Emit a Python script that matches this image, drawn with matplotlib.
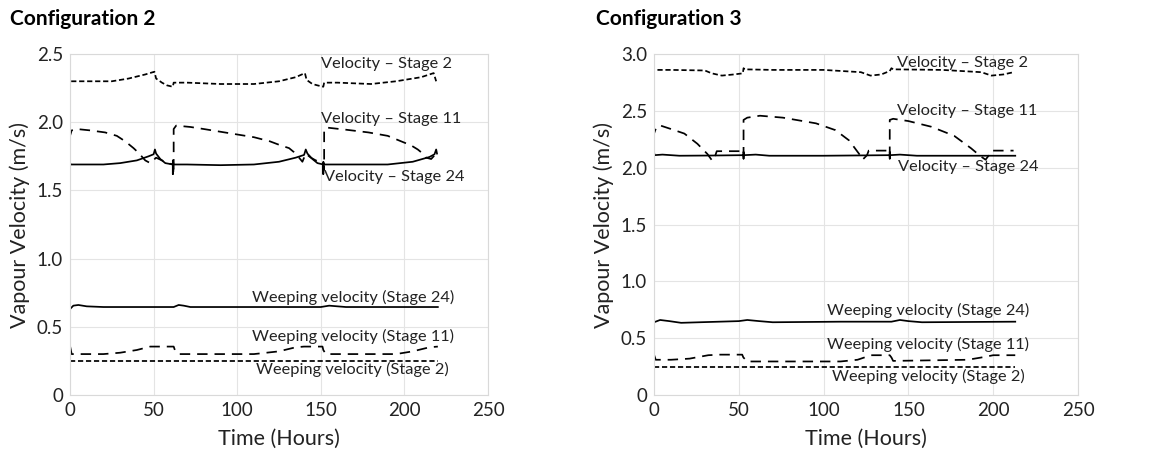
import matplotlib
matplotlib.use("Agg")
import matplotlib.pyplot as plt

plt.rcParams['font.family'] = ['Lato', 'DejaVu Sans']

# ---- Configuration 2 ----
c2_v2_x = [0, 0, 10, 25, 35, 45, 50.5, 51.5, 55, 58, 61.5, 62, 70, 90, 110, 125, 135, 140.5, 141.5, 145, 148, 151.5, 152, 160, 180, 195, 210, 217.5, 219]
c2_v2_y = [2.25, 2.30, 2.30, 2.30, 2.32, 2.35, 2.37, 2.32, 2.29, 2.27, 2.26, 2.29, 2.29, 2.28, 2.28, 2.30, 2.33, 2.36, 2.31, 2.28, 2.27, 2.26, 2.29, 2.29, 2.28, 2.30, 2.33, 2.36, 2.30]

c2_v11_x = [0, 0, 1, 4, 12, 21, 28, 33, 38, 41, 45, 48, 51.5, 55, 58.5, 61.5, 62, 62, 63.5, 72, 80, 90, 100, 110, 119.5, 126, 131, 134, 137, 139, 141, 144, 147, 151.5, 152, 152, 154, 165, 178.5, 190, 198, 204, 208, 211, 213, 216, 219]
c2_v11_y = [1.62, 1.90, 1.94, 1.95, 1.94, 1.925, 1.90, 1.86, 1.81, 1.775, 1.72, 1.70, 1.74, 1.72, 1.70, 1.69, 1.62, 1.95, 1.975, 1.965, 1.95, 1.93, 1.91, 1.89, 1.86, 1.83, 1.81, 1.78, 1.74, 1.71, 1.77, 1.74, 1.72, 1.70, 1.65, 1.95, 1.96, 1.945, 1.925, 1.90, 1.86, 1.83, 1.80, 1.77, 1.74, 1.73, 1.77]

c2_v24_x = [0, 0, 0.5, 10, 20, 30, 40, 47, 50, 50.8, 51.5, 54, 57, 61.5, 61.5, 61.5, 62, 70, 90, 110, 125, 135, 140, 141, 142, 145, 148, 151.5, 151.5, 151.5, 152, 170, 190, 205, 215, 218, 219, 219.5]
c2_v24_y = [1.62, 1.70, 1.69, 1.69, 1.69, 1.70, 1.72, 1.75, 1.765, 1.80, 1.77, 1.73, 1.70, 1.69, 1.62, 1.72, 1.69, 1.69, 1.685, 1.69, 1.71, 1.74, 1.76, 1.80, 1.77, 1.73, 1.70, 1.69, 1.62, 1.71, 1.69, 1.69, 1.69, 1.71, 1.745, 1.765, 1.80, 1.77]

c2_w24_x = [0, 2, 5, 10, 20, 40, 62, 65, 68, 72, 100, 150, 155, 160, 165, 220]
c2_w24_y = [0.63, 0.655, 0.66, 0.65, 0.645, 0.645, 0.645, 0.66, 0.655, 0.645, 0.645, 0.645, 0.655, 0.65, 0.645, 0.645]

c2_w11_x = [0, 0.5, 1, 20, 30, 40, 48, 62, 63, 65, 110, 125, 135, 140, 151, 151.5, 153, 195, 205, 215, 220]
c2_w11_y = [0.36, 0.33, 0.30, 0.30, 0.31, 0.33, 0.355, 0.355, 0.32, 0.30, 0.30, 0.32, 0.35, 0.355, 0.355, 0.33, 0.30, 0.30, 0.32, 0.35, 0.355]

c2_w2_x = [0, 220]
c2_w2_y = [0.25, 0.25]

# ---- Configuration 3 ----
c3_v2_x = [0, 0, 10, 30, 34, 40, 47, 52.4, 52.8, 53.5, 70, 100, 122, 127.6, 134, 139, 140, 141, 170, 193, 199, 206, 212]
c3_v2_y = [2.82, 2.86, 2.86, 2.855, 2.83, 2.81, 2.82, 2.83, 2.875, 2.865, 2.86, 2.86, 2.84, 2.81, 2.82, 2.85, 2.875, 2.865, 2.86, 2.84, 2.81, 2.82, 2.84]

c3_v11_x = [0, 0, 1.5, 3.9, 10, 17.9, 25.6, 31.5, 34.4, 36, 37, 52, 52.8, 52.8, 55, 62.5, 76, 95.5, 107, 115, 121, 123, 125.6, 126.6, 138, 139, 139, 141, 150, 163.5, 177, 187, 192.6, 195.5, 198, 199, 212]
c3_v11_y = [2.10, 2.30, 2.36, 2.37, 2.34, 2.30, 2.21, 2.12, 2.06, 2.10, 2.145, 2.145, 2.10, 2.42, 2.44, 2.457, 2.44, 2.39, 2.33, 2.24, 2.12, 2.07, 2.11, 2.15, 2.15, 2.10, 2.42, 2.43, 2.41, 2.36, 2.28, 2.17, 2.10, 2.07, 2.12, 2.15, 2.15]

c3_v24_x = [0, 0, 0.3, 5, 15, 35, 52.8, 52.8, 52.8, 53, 60, 68, 100, 139, 139, 139, 139.3, 145, 155, 213]
c3_v24_y = [2.08, 2.14, 2.11, 2.115, 2.105, 2.107, 2.11, 2.08, 2.14, 2.11, 2.115, 2.105, 2.105, 2.11, 2.08, 2.14, 2.11, 2.115, 2.105, 2.105]

c3_w24_x = [0, 3.6, 9, 16, 27, 50, 55, 62, 70, 110, 140, 145, 150, 158, 213]
c3_w24_y = [0.64, 0.66, 0.65, 0.635, 0.64, 0.65, 0.66, 0.65, 0.64, 0.645, 0.645, 0.66, 0.65, 0.64, 0.645]

c3_w11_x = [0, 1, 10, 21, 32, 39, 52, 52.7, 55, 110, 120, 128, 139, 140, 141, 185, 195, 200, 213]
c3_w11_y = [0.355, 0.31, 0.31, 0.32, 0.35, 0.355, 0.355, 0.33, 0.295, 0.295, 0.31, 0.35, 0.35, 0.33, 0.30, 0.31, 0.335, 0.35, 0.35]

c3_w2_x = [0, 213]
c3_w2_y = [0.25, 0.25]

short_dash = (0, (3, 1.6))
long_dash = (0, (6, 4))

fig = plt.figure(figsize=(11.53, 4.57), dpi=100)
ax1 = fig.add_axes([70 / 1153, 1 - 395 / 457, 418 / 1153, 341 / 457])
ax2 = fig.add_axes([654 / 1153, 1 - 395 / 457, 424 / 1153, 341 / 457])


def style_axes(ax, ymax):
    ax.set_xlim(0, 250)
    ax.set_ylim(0, ymax)
    ax.set_xticks([0, 50, 100, 150, 200, 250])
    ax.set_yticks([0, 0.5, 1.0, 1.5, 2.0, 2.5, 3.0][:int(ymax / 0.5) + 1])
    ax.set_yticklabels(['0'] + ['%.1f' % v for v in ax.get_yticks()[1:]])
    ax.grid(True, color='#e4e4e4', lw=0.8)
    ax.set_axisbelow(True)
    for s in ax.spines.values():
        s.set_color('#d9d9d9')
        s.set_linewidth(0.8)
    ax.tick_params(length=0, labelsize=13.5, pad=5, colors='#222222')
    ax.set_xlabel('Time (Hours)', fontsize=15.5, labelpad=7, color='#222222')
    ax.set_ylabel('Vapour Velocity (m/s)', fontsize=15.5, labelpad=5, color='#222222')


style_axes(ax1, 2.5)
style_axes(ax2, 3.0)

lw = 1.25
for ax, series in [
    (ax1, [(c2_v2_x, c2_v2_y, short_dash), (c2_v11_x, c2_v11_y, long_dash), (c2_v24_x, c2_v24_y, '-'),
           (c2_w24_x, c2_w24_y, '-'), (c2_w11_x, c2_w11_y, long_dash), (c2_w2_x, c2_w2_y, short_dash)]),
    (ax2, [(c3_v2_x, c3_v2_y, short_dash), (c3_v11_x, c3_v11_y, long_dash), (c3_v24_x, c3_v24_y, '-'),
           (c3_w24_x, c3_w24_y, '-'), (c3_w11_x, c3_w11_y, long_dash), (c3_w2_x, c3_w2_y, short_dash)]),
]:
    for x, y, ls in series:
        ax.plot(x, y, color='black', lw=lw, ls=ls)

# line labels
tkw = dict(fontsize=11.8, color='#222222', va='center', ha='left')
ax1.text(150, 2.425, 'Velocity – Stage 2', **tkw)
ax1.text(150, 2.025, 'Velocity – Stage 11', **tkw)
ax1.text(152, 1.60, 'Velocity – Stage 24', **tkw)
ax1.text(109, 0.717, 'Weeping velocity (Stage 24)', **tkw)
ax1.text(109, 0.43, 'Weeping velocity (Stage 11)', **tkw)
ax1.text(111.5, 0.19, 'Weeping velocity (Stage 2)', **tkw)

ax2.text(143, 2.92, 'Velocity – Stage 2', **tkw)
ax2.text(143, 2.50, 'Velocity – Stage 11', **tkw)
ax2.text(144, 2.01, 'Velocity – Stage 24', **tkw)
ax2.text(102, 0.745, 'Weeping velocity (Stage 24)', **tkw)
ax2.text(102, 0.445, 'Weeping velocity (Stage 11)', **tkw)
ax2.text(105, 0.167, 'Weeping velocity (Stage 2)', **tkw)

fig.text(10 / 1153, 1 - 19 / 457, 'Configuration 2', fontsize=15, fontweight='bold', va='center', ha='left')
fig.text(596 / 1153, 1 - 19 / 457, 'Configuration 3', fontsize=15, fontweight='bold', va='center', ha='left')

fig.savefig('out.png', dpi=100)
